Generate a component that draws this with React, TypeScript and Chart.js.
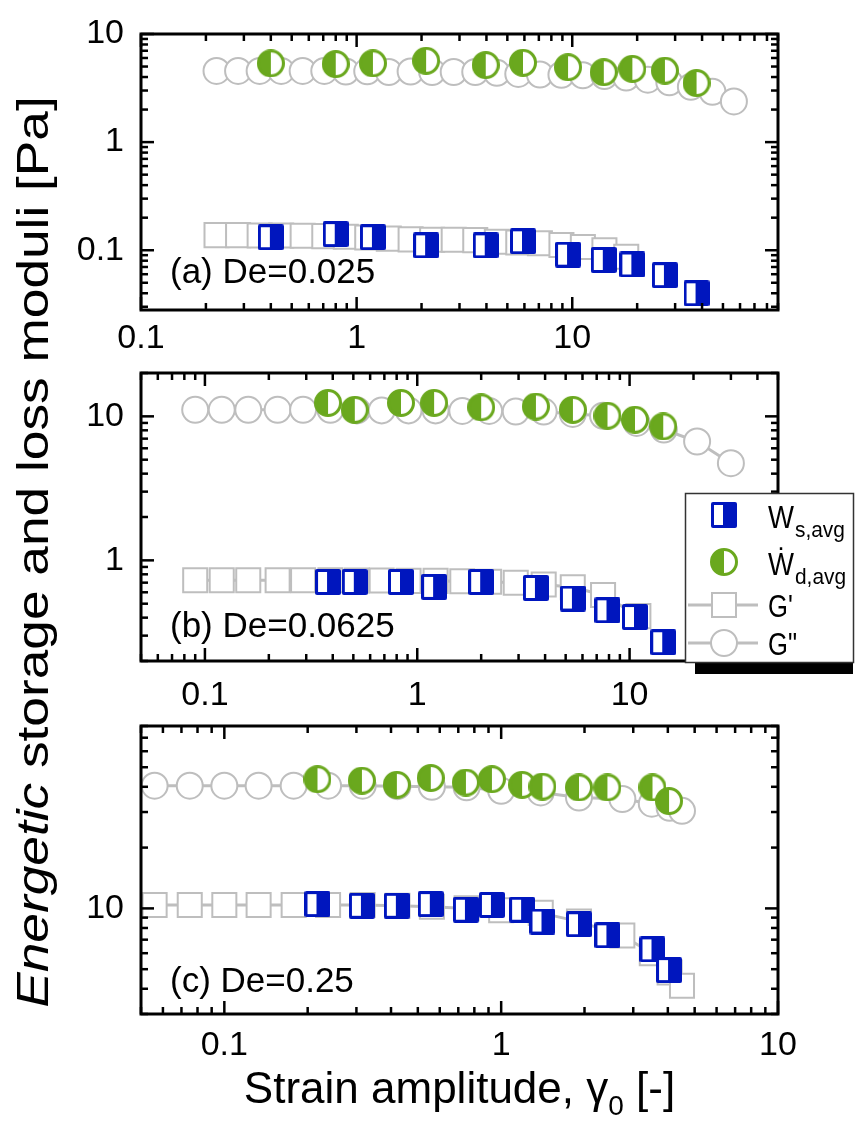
import React, { useEffect, useRef } from 'react';
import { Chart, registerables } from 'chart.js';

Chart.register(...registerables);

const W = 857;
const H = 1124;
const FONT = '"Liberation Sans", Arial, Helvetica, sans-serif';
const BLUE = '#0016BE';
const GREEN = '#6AA81E';
const GRAY = '#BEBEBE';

// ---------- Panel (a) De = 0.025 ----------
const xGpp_a = [0.224, 0.282, 0.355, 0.447, 0.562, 0.708, 0.891, 1.12, 1.41, 1.78, 2.24, 2.82, 3.55, 4.47, 5.62, 7.08, 8.91, 11.2, 14.1, 17.8, 22.4, 28.2, 35.5, 44.7, 56.2];
const Gpp_a = [4.55, 4.55, 4.55, 4.55, 4.55, 4.55, 4.5, 4.52, 4.45, 4.5, 4.45, 4.45, 4.45, 4.37, 4.27, 4.22, 4.2, 4.15, 4.08, 3.95, 3.78, 3.57, 3.25, 2.92, 2.38];
const xGp_a = [0.224, 0.282, 0.355, 0.447, 0.562, 0.708, 0.891, 1.12, 1.41, 1.78, 2.24, 2.82, 3.55, 4.47, 5.62, 7.08, 8.91, 11.2, 14.1, 17.8];
const Gp_a = [0.138, 0.138, 0.137, 0.137, 0.136, 0.135, 0.133, 0.131, 0.128, 0.126, 0.125, 0.125, 0.124, 0.12, 0.118, 0.116, 0.112, 0.107, 0.1, 0.087];
const xW_a = [0.4, 0.8, 1.19, 2.1, 3.97, 5.91, 9.56, 14.0, 19.0, 26.9, 37.7];
const Wd_a = [5.35, 5.27, 5.35, 5.65, 5.16, 5.42, 4.93, 4.43, 4.76, 4.58, 3.52];
const Ws_a = [0.132, 0.141, 0.132, 0.111, 0.111, 0.121, 0.091, 0.0813, 0.0738, 0.0588, 0.04];

// ---------- Panel (b) De = 0.0625 ----------
const xGpp_b = [0.09, 0.12, 0.16, 0.22, 0.29, 0.39, 0.52, 0.68, 0.91, 1.22, 1.63, 2.18, 2.91, 3.94, 5.4, 7.5, 10.8, 14.5, 20.8, 30];
const Gpp_b = [11.1, 11.1, 11.1, 11.1, 11.1, 11.1, 11.0, 11.0, 11.0, 11.0, 10.9, 10.9, 10.8, 10.8, 10.4, 10.1, 9.0, 8.1, 6.69, 4.73];
const xGp_b = [0.09, 0.12, 0.16, 0.22, 0.29, 0.39, 0.52, 0.68, 0.91, 1.22, 1.63, 2.18, 2.91, 3.94, 5.4, 7.5, 11];
const Gp_b = [0.728, 0.728, 0.728, 0.728, 0.728, 0.728, 0.725, 0.725, 0.72, 0.72, 0.715, 0.71, 0.7, 0.68, 0.65, 0.575, 0.41];
const xW_b = [0.38, 0.508, 0.838, 1.2, 2.0, 3.62, 5.41, 7.87, 10.6, 14.4];
const Wd_b = [12.4, 11.1, 12.4, 12.4, 11.55, 11.7, 11.1, 10.1, 9.48, 8.51];
const Ws_b = [0.708, 0.708, 0.708, 0.654, 0.708, 0.643, 0.543, 0.45, 0.404, 0.27];

// ---------- Panel (c) De = 0.25 ----------
const xGpp_c = [0.056, 0.075, 0.1, 0.133, 0.178, 0.237, 0.316, 0.422, 0.562, 0.75, 1.0, 1.39, 1.91, 2.74, 3.5, 4.06, 4.5];
const Gpp_c = [40.5, 40.5, 40.5, 40.5, 40.5, 40.5, 40.5, 40.3, 40.0, 39.8, 38.2, 37.5, 35.4, 34.8, 33.0, 31.5, 30.4];
const xGp_c = [0.056, 0.075, 0.1, 0.133, 0.178, 0.237, 0.316, 0.422, 0.562, 0.75, 1.0, 1.39, 1.91, 2.74, 3.5, 4.06, 4.5];
const Gp_c = [10.4, 10.4, 10.4, 10.4, 10.4, 10.4, 10.4, 10.3, 10.2, 10.0, 9.8, 9.5, 8.6, 7.34, 6.0, 4.82, 4.14];
const xW_c = [0.217, 0.314, 0.42, 0.557, 0.746, 0.926, 1.19, 1.41, 1.91, 2.42, 3.52, 4.04];
const Wd_c = [43.6, 42.9, 40.9, 44.2, 42.0, 43.6, 40.9, 40.1, 39.7, 39.7, 39.7, 34.0];
const Ws_c = [10.5, 10.3, 10.3, 10.5, 9.85, 10.4, 9.85, 8.61, 8.35, 7.36, 6.27, 4.95];

// axis ranges
const xRange_a = [0.1, 90];
const yRange_a = [0.028, 10];
const xRange_b = [0.05, 50];
const yRange_b = [0.2, 20];
const xRange_c = [0.05, 10];
const yRange_c = [3, 80];

const panelLabels = ['(a) De=0.025', '(b) De=0.0625', '(c) De=0.25'];
const legendLabels = ['W', 's,avg', '\u1E86', 'd,avg', "G'", 'G"'];
const xTitleParts = ['Strain amplitude, \u03B3', '0', ' [-]'];
const yTitleParts = ['Energetic', ' storage and loss moduli [Pa]'];

function logTicks(min: number, max: number): number[] {
  const out: number[] = [];
  for (let e = Math.floor(Math.log10(min)); e <= Math.ceil(Math.log10(max)); e++) {
    for (let m = 1; m <= 9; m++) {
      const v = parseFloat((m * Math.pow(10, e)).toPrecision(10));
      if (v >= min * 0.9999 && v <= max * 1.0001) out.push(v);
    }
  }
  return out;
}
const isPow10 = (v: number) => Math.abs(Math.log10(v) - Math.round(Math.log10(v))) < 1e-6;
const zip = (xs: number[], ys: number[]) => xs.map((x, i) => ({ x, y: ys[i] }));

function halfSquare(): HTMLCanvasElement {
  const c = document.createElement('canvas');
  c.width = 26; c.height = 26;
  const g = c.getContext('2d')!;
  g.fillStyle = BLUE;
  g.beginPath();
  (g as any).roundRect ? (g as any).roundRect(0, 0, 26, 26, 2) : g.rect(0, 0, 26, 26);
  g.fill();
  g.fillStyle = '#fff';
  g.fillRect(3, 3, 9, 20);
  return c;
}
function halfCircle(): HTMLCanvasElement {
  const c = document.createElement('canvas');
  c.width = 28; c.height = 28;
  const g = c.getContext('2d')!;
  g.fillStyle = '#fff';
  g.beginPath(); g.arc(14, 14, 13, 0, Math.PI * 2); g.fill();
  g.fillStyle = GREEN;
  g.beginPath(); g.moveTo(14, 14); g.arc(14, 14, 13, -Math.PI / 2, Math.PI / 2, true); g.closePath(); g.fill();
  g.strokeStyle = GREEN; g.lineWidth = 3;
  g.beginPath(); g.arc(14, 14, 12.5, 0, Math.PI * 2); g.stroke();
  return c;
}

interface Panel {
  top: number; bottom: number;
  xr: number[]; yr: number[];
  xGpp: number[]; gpp: number[]; xGp: number[]; gp: number[];
  xW: number[]; wd: number[]; ws: number[];
  label: string; labelY: number; labelPad: number;
  legend?: boolean; xTitle?: boolean; yTitle?: boolean;
}

const panels: Panel[] = [
  { top: 19, bottom: 310, xr: xRange_a, yr: yRange_a, xGpp: xGpp_a, gpp: Gpp_a, xGp: xGp_a, gp: Gp_a, xW: xW_a, wd: Wd_a, ws: Ws_a, label: panelLabels[0], labelY: 283, labelPad: 12 },
  { top: 373, bottom: 661, xr: xRange_b, yr: yRange_b, xGpp: xGpp_b, gpp: Gpp_b, xGp: xGp_b, gp: Gp_b, xW: xW_b, wd: Wd_b, ws: Ws_b, label: panelLabels[1], labelY: 637, labelPad: 18, legend: true, yTitle: true },
  { top: 726, bottom: 1014, xr: xRange_c, yr: yRange_c, xGpp: xGpp_c, gpp: Gpp_c, xGp: xGp_c, gp: Gp_c, xW: xW_c, wd: Wd_c, ws: Ws_c, label: panelLabels[2], labelY: 992, labelPad: 15, xTitle: true },
];

function makeChart(canvas: HTMLCanvasElement, p: Panel, sq: HTMLCanvasElement, ci: HTMLCanvasElement) {
  const decor = {
    id: 'decor',
    afterDraw(chart: any) {
      const { ctx, chartArea: a, scales } = chart;
      const xs = scales.x, ys = scales.y;
      ctx.save();
      ctx.strokeStyle = '#000';
      ctx.lineWidth = 2.5;
      const seg = (x1: number, y1: number, x2: number, y2: number) => {
        ctx.beginPath(); ctx.moveTo(x1, y1); ctx.lineTo(x2, y2); ctx.stroke();
      };
      for (const v of logTicks(p.xr[0], p.xr[1])) {
        const px = xs.getPixelForValue(v);
        const L = isPow10(v) ? 13 : 7;
        seg(px, a.bottom, px, a.bottom - L);
        seg(px, a.top, px, a.top + L);
      }
      for (const v of logTicks(p.yr[0], p.yr[1])) {
        const py = ys.getPixelForValue(v);
        const L = isPow10(v) ? 13 : 7;
        seg(a.left, py, a.left + L, py);
        seg(a.right, py, a.right - L, py);
      }
      ctx.lineWidth = 3;
      ctx.strokeRect(a.left, a.top, a.right - a.left, a.bottom - a.top);

      ctx.fillStyle = '#000';
      ctx.textAlign = 'left';
      ctx.textBaseline = 'alphabetic';
      ctx.font = `35px ${FONT}`;
      ctx.fillText(p.label, 170, p.labelY);

      if (p.legend) {
        ctx.fillStyle = '#000';
        ctx.fillRect(695, 663, 158, 11);
        ctx.fillStyle = '#fff';
        ctx.fillRect(685, 493, 169, 170);
        ctx.strokeStyle = '#333';
        ctx.lineWidth = 1.5;
        ctx.strokeRect(685.5, 493.5, 168, 169);
        ctx.drawImage(sq, 724 - 13, 515 - 13);
        ctx.drawImage(ci, 724 - 14, 562 - 14);
        ctx.strokeStyle = GRAY;
        ctx.lineWidth = 3;
        seg(688, 605, 758, 605);
        seg(688, 643, 758, 643);
        ctx.lineWidth = 2;
        ctx.fillStyle = '#fff';
        ctx.fillRect(712, 593, 24, 24);
        ctx.strokeRect(712, 593, 24, 24);
        ctx.beginPath(); ctx.arc(724, 643, 13, 0, Math.PI * 2); ctx.fill(); ctx.stroke();
        ctx.fillStyle = '#000';
        const drawNarrow = (t: string, x: number, y: number, size: number, sx: number) => {
          ctx.save();
          ctx.translate(x, y);
          ctx.scale(sx, 1);
          ctx.font = `${size}px ${FONT}`;
          ctx.fillText(t, 0, 0);
          const w = ctx.measureText(t).width * sx;
          ctx.restore();
          return w;
        };
        const wW = drawNarrow(legendLabels[0], 768, 528, 32, 0.86);
        drawNarrow(legendLabels[2], 768, 575, 32, 0.86);
        drawNarrow(legendLabels[4], 768, 617, 32, 0.8);
        drawNarrow(legendLabels[5], 768, 655, 32, 0.8);
        drawNarrow(legendLabels[1], 768 + wW + 1, 537, 22, 0.95);
        drawNarrow(legendLabels[3], 768 + wW + 1, 584, 22, 0.95);
      }

      if (p.yTitle) {
        ctx.save();
        ctx.translate(48, 552);
        ctx.rotate(-Math.PI / 2);
        ctx.scale(1.21, 1);
        ctx.fillStyle = '#000';
        ctx.font = `italic 44px ${FONT}`;
        const w1 = ctx.measureText(yTitleParts[0]).width;
        ctx.font = `44px ${FONT}`;
        const w2 = ctx.measureText(yTitleParts[1]).width;
        const x0 = -(w1 + w2) / 2;
        ctx.font = `italic 44px ${FONT}`;
        ctx.fillText(yTitleParts[0], x0, 0);
        ctx.font = `44px ${FONT}`;
        ctx.fillText(yTitleParts[1], x0 + w1, 0);
        ctx.restore();
      }

      if (p.xTitle) {
        ctx.fillStyle = '#000';
        ctx.font = `44px ${FONT}`;
        const w1 = ctx.measureText(xTitleParts[0]).width;
        const w3 = ctx.measureText(xTitleParts[2]).width;
        ctx.font = `28px ${FONT}`;
        const w2 = ctx.measureText(xTitleParts[1]).width;
        const cx = (a.left + a.right) / 2;
        const x0 = cx - (w1 + w2 + w3) / 2;
        const base = 1103;
        ctx.font = `44px ${FONT}`;
        ctx.fillText(xTitleParts[0], x0, base);
        ctx.font = `28px ${FONT}`;
        ctx.fillText(xTitleParts[1], x0 + w1, base + 12);
        ctx.font = `44px ${FONT}`;
        ctx.fillText(xTitleParts[2], x0 + w1 + w2, base);
      }
      ctx.restore();
    },
  };

  const tickFont = { family: FONT, size: 34, lineHeight: 1 };
  const cb = (v: any) => (isPow10(Number(v)) ? String(Number(v)) : '');

  return new Chart(canvas, {
    type: 'scatter',
    data: {
      datasets: [
        { data: zip(p.xW, p.wd), pointStyle: ci as any, pointRadius: 13, showLine: false, order: 0 } as any,
        { data: zip(p.xW, p.ws), pointStyle: sq as any, pointRadius: 13, showLine: false, order: 0 } as any,
        { data: zip(p.xGp, p.gp), showLine: true, borderColor: GRAY, borderWidth: 3, pointStyle: 'rect', pointRadius: 17, pointBorderWidth: 2, pointBorderColor: GRAY, pointBackgroundColor: '#fff', order: 1 } as any,
        { data: zip(p.xGpp, p.gpp), showLine: true, borderColor: GRAY, borderWidth: 3, pointStyle: 'circle', pointRadius: 13, pointBorderWidth: 2, pointBorderColor: GRAY, pointBackgroundColor: '#fff', order: 2 } as any,
      ],
    },
    options: {
      responsive: false,
      maintainAspectRatio: false,
      animation: false,
      devicePixelRatio: 1,
      events: [],
      layout: { padding: { left: 0, right: W - 778, top: p.top, bottom: H - p.bottom - 60 } },
      plugins: { legend: { display: false }, tooltip: { enabled: false }, title: { display: false } },
      scales: {
        x: {
          type: 'logarithmic', position: 'bottom', min: p.xr[0], max: p.xr[1],
          grid: { display: false, drawTicks: false }, border: { display: false },
          ticks: { autoSkip: false, maxRotation: 0, minRotation: 0, padding: p.labelPad, color: '#000', font: tickFont, callback: cb },
          afterBuildTicks: (s: any) => { s.ticks = logTicks(p.xr[0], p.xr[1]).map((v) => ({ value: v })); },
          afterFit: (s: any) => { s.height = 60; },
        },
        y: {
          type: 'logarithmic', position: 'left', min: p.yr[0], max: p.yr[1],
          grid: { display: false, drawTicks: false }, border: { display: false },
          ticks: { autoSkip: false, padding: 17, color: '#000', font: tickFont, callback: cb },
          afterBuildTicks: (s: any) => { s.ticks = logTicks(p.yr[0], p.yr[1]).map((v) => ({ value: v })); },
          afterFit: (s: any) => { s.width = 141; },
        },
      },
    } as any,
    plugins: [decor],
  });
}

export default function App() {
  const r1 = useRef<HTMLCanvasElement>(null);
  const r2 = useRef<HTMLCanvasElement>(null);
  const r3 = useRef<HTMLCanvasElement>(null);

  useEffect(() => {
    const sq = halfSquare();
    const ci = halfCircle();
    const refs = [r1, r2, r3];
    const charts = panels.map((p, i) => makeChart(refs[i].current!, p, sq, ci));
    return () => charts.forEach((c) => c.destroy());
  }, []);

  const cs: React.CSSProperties = { position: 'absolute', left: 0, top: 0, width: W, height: H };
  return (
    <div style={{ position: 'absolute', left: 0, top: 0, width: W, height: H, background: '#fff', overflow: 'hidden' }}>
      <canvas ref={r1} width={W} height={H} style={cs} />
      <canvas ref={r2} width={W} height={H} style={cs} />
      <canvas ref={r3} width={W} height={H} style={cs} />
    </div>
  );
}
